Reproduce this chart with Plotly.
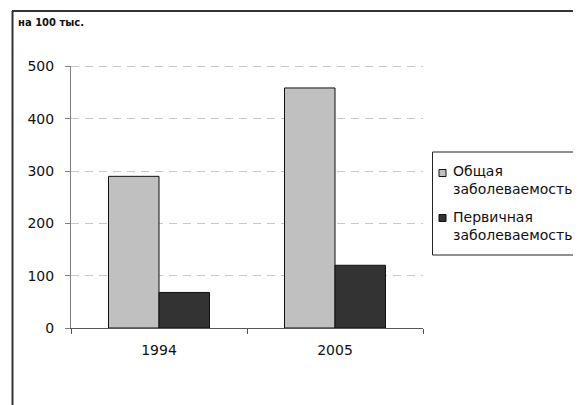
import plotly.graph_objects as go

years = ["1994", "2005"]
general = [290, 459]
primary = [68, 120]
series_names = ["Общая<br>заболеваемость", "Первичная<br>заболеваемость"]
series_colors = ["#C0C0C0", "#333333"]
y_ticks = [0, 100, 200, 300, 400, 500]

# figure is placed at an 8px body offset in the window
OFF = 8
W, H = 581 - OFF, 405 - OFF
pw, ph = 352, 262
L, T = 71 - OFF, 66 - OFF
R, B = W - L - pw, H - T - ph

def px_x(x):  # window pixel -> paper
    return (x - OFF - L) / pw

def px_y(y):  # window pixel -> paper
    return (H - B - (y - OFF)) / ph

fig = go.Figure()
for vals, name, col in zip([general, primary], series_names, series_colors):
    fig.add_trace(go.Bar(x=years, y=vals, name=name, showlegend=False,
                         marker=dict(color=col, line=dict(color="#111111", width=1))))

font_main = "DejaVu Sans"

fig.update_layout(
    width=W, height=H,
    margin=dict(l=L, r=R, t=T, b=B, autoexpand=False),
    paper_bgcolor="white", plot_bgcolor="white",
    barmode="group", bargap=0.426, bargroupgap=0,
    showlegend=False,
    font=dict(family=font_main, color="#111111"),
)

fig.update_yaxes(range=[0, 501], tickvals=y_ticks, showgrid=True, gridcolor="#C8C8C8",
                 griddash="8px,6px", gridwidth=1, zeroline=False,
                 showline=True, linecolor="#808080", linewidth=1,
                 ticks="outside", ticklen=5, tickcolor="#808080",
                 ticklabelstandoff=8,
                 tickfont=dict(family=font_main, size=14, color="#111111"))
fig.update_xaxes(showline=True, linecolor="#555555", linewidth=1, ticks="outside",
                 tickson="boundaries", ticklen=5, tickcolor="#555555",
                 ticklabelstandoff=9, showgrid=False,
                 tickfont=dict(family=font_main, size=14, color="#111111"))

# top gridline at the last tick
fig.add_shape(type="line", xref="paper", yref="y", layer="below",
              x0=0, x1=1, y0=y_ticks[-1], y1=y_ticks[-1],
              line=dict(color="#C8C8C8", width=1, dash="8px,6px"))

# outer frame (top and left lines)
fig.add_shape(type="line", xref="paper", yref="paper",
              x0=px_x(12), x1=px_x(600), y0=px_y(11), y1=px_y(11),
              line=dict(color="#333333", width=2))
fig.add_shape(type="line", xref="paper", yref="paper",
              x0=px_x(12.5), x1=px_x(12.5), y0=px_y(11), y1=px_y(420),
              line=dict(color="#333333", width=2))

fig.add_annotation(text="<b>на 100 тыс.</b>", xref="paper", yref="paper",
                   x=px_x(16), y=px_y(23), xanchor="left", yanchor="middle",
                   showarrow=False, font=dict(family=font_main, size=10, color="#111111"))

# legend box (drawn manually to match the original layout)
fig.add_shape(type="rect", xref="paper", yref="paper",
              x0=px_x(432.5), x1=px_x(600), y0=px_y(152), y1=px_y(255),
              line=dict(color="#222222", width=1), fillcolor="white")
sq_centers = [173, 218]
text_centers = [180, 226]
for name, col, sc, tc in zip(series_names, series_colors, sq_centers, text_centers):
    fig.add_shape(type="rect", xref="paper", yref="paper",
                  x0=px_x(439), x1=px_x(446), y0=px_y(sc - 3.5), y1=px_y(sc + 3.5),
                  line=dict(color="#111111", width=1), fillcolor=col)
    fig.add_annotation(text=name, xref="paper", yref="paper",
                       x=px_x(451), y=px_y(tc), xanchor="left", yanchor="middle",
                       align="left", showarrow=False,
                       font=dict(family=font_main, size=14, color="#111111"))

fig.write_html("out.html")
